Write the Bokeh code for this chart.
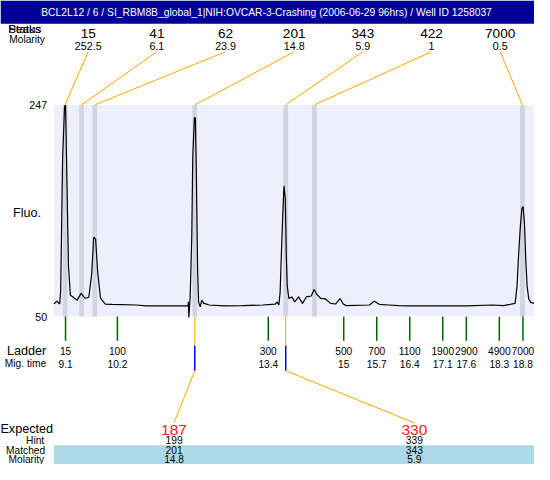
from bokeh.plotting import figure
from bokeh.models import Range1d
from bokeh.embed import file_html
from bokeh.resources import INLINE
from bokeh.core.properties import value

# ---------------- data ----------------
title_text = "BCL2L12 / 6 / SI_RBM8B_global_1|NIH:OVCAR-3-Crashing (2006-06-29 96hrs) / Well ID 1258037"

peak_sizes = [15, 41, 62, 201, 343, 422, 7000]
peak_molarity = ["252.5", "6.1", "23.9", "14.8", "5.9", "1", "0.5"]
peak_times = [9.09, 9.44, 9.72, 11.84, 13.77, 14.38, 18.79]

ladder_sizes = [15, 100, 300, 500, 700, 1100, 1900, 2900, 4900, 7000]
ladder_times = [9.1, 10.2, 13.4, 15, 15.7, 16.4, 17.1, 17.6, 18.3, 18.8]

expected_sizes = [187, 330]
hint_sizes = [199, 339]
matched_sizes = [201, 343]
matched_molarity = ["14.8", "5.9"]
matched_times = [11.84, 13.77]

trace_time = [8.853, 8.915, 8.976, 8.997, 9.038, 9.079, 9.100, 9.131, 9.162, 9.203,
              9.265, 9.347, 9.429, 9.512, 9.594, 9.656, 9.697, 9.738, 9.780, 9.841,
              9.944, 10.088, 10.603, 10.809, 11.695, 11.705, 11.715, 11.742, 11.777, 11.798,
              11.833, 11.853, 11.874, 11.901, 11.921, 11.956, 11.989, 12.024, 12.148, 12.457,
              12.869, 13.280, 13.548, 13.589, 13.624, 13.651, 13.678, 13.707, 13.733, 13.760,
              13.781, 13.801, 13.836, 13.898, 13.960, 14.042, 14.125, 14.207, 14.310, 14.372,
              14.434, 14.517, 14.599, 14.722, 14.825, 14.922, 14.990, 15.052, 15.546, 15.649,
              15.752, 15.958, 16.164, 16.370, 16.988, 17.605, 18.161, 18.388, 18.635, 18.676,
              18.711, 18.744, 18.779, 18.805, 18.834, 18.861, 18.888, 18.923, 18.964, 19.046]
trace_fluo = [61.7, 64.4, 61.7, 74.3, 198.4, 245.2, 247.0, 171.4, 96.8, 69.8,
              68.0, 65.3, 71.6, 67.1, 68.0, 90.5, 123.8, 122.0, 92.3, 67.1,
              61.7, 61.4, 60.8, 59.9, 59.9, 63.8, 49.1, 67.1, 123.8, 198.4,
              235.3, 234.7, 184.0, 94.1, 63.5, 59.0, 65.3, 62.6, 60.8, 59.9,
              60.2, 60.8, 61.7, 63.5, 60.8, 72.5, 108.7, 144.7, 171.7, 159.7,
              108.7, 78.8, 66.8, 68.3, 63.8, 68.3, 62.3, 68.3, 69.2, 75.2,
              70.4, 66.8, 66.8, 62.3, 61.7, 66.8, 61.7, 60.2, 60.8, 64.4,
              61.4, 60.8, 60.2, 59.9, 59.9, 59.9, 60.8, 60.2, 62.3, 78.8,
              108.7, 132.8, 150.7, 152.3, 135.7, 102.8, 78.8, 66.8, 63.2, 62.3]

fluo_min, fluo_max = 50, 247
time_left, time_right = 8.853, 19.046

# ---------------- layout ----------------
W, H = 550, 480
OUT_W, OUT_H = 534, 464
SC = OUT_W / W
PL, PR, PT, PB = 55, 550, 108, 327
FONT = "Liberation Sans"

kt = (time_right - time_left) / (PR - PL)
kf = (fluo_max - fluo_min) / (PB - PT)


def t2px(t):
    return PL + (t - time_left) / kt


p = figure(width=OUT_W, height=OUT_H, x_range=Range1d(0, W), y_range=Range1d(H, 0),
           output_backend="svg", toolbar_location=None, min_border=0,
           x_axis_type=None, y_axis_type=None, outline_line_color=None,
           background_fill_color="white", border_fill_color="white")
p.extra_x_ranges = {"t": Range1d(time_left - PL * kt, time_right + (W - PR) * kt)}
p.extra_y_ranges = {"f": Range1d(fluo_min - (H - PB) * kf, fluo_max + PT * kf)}


def txt(xs, ys, texts, size, align="center", color="black", **kw):
    p.text(x=xs, y=ys, text=[str(t) for t in texts], text_font=value(FONT),
           text_font_size=f"{size * SC:.1f}px", text_align=align,
           text_baseline="middle", text_color=color, **kw)


# header row labels (overlapping, partly under title bar)
txt([8], [28.5], ["Status"], 12, align="left")
txt([8], [28.5], ["Peaks"], 12, align="left")
txt([9], [40.5], ["Molarity"], 10.5, align="left")

# title bar
p.quad(left=0, right=W, top=0, bottom=24, fill_color="#000099", line_color=None)
txt([274], [12], [title_text], 10.6, color="white")

# peak labels on top
n = len(peak_sizes)
slot_x = [PL + (i + 0.5) * (PR - PL) / n for i in range(n)]
txt(slot_x, [34] * n, peak_sizes, 14)
txt(slot_x, [47] * n, peak_molarity, 11)
p.segment(x0=slot_x, y0=[53] * n, x1=[t2px(t) for t in peak_times], y1=[PT] * n,
          line_color="#FFA500", line_width=1)

# plot area
p.quad(left=PL, right=PR, top=PT, bottom=PB, fill_color="#EEEEFC", line_color=None)
p.vbar(x=peak_times, width=0.1, bottom=fluo_min, top=fluo_max,
       x_range_name="t", y_range_name="f", fill_color="#D4D4E0", line_color=None)
p.line(trace_time, trace_fluo, x_range_name="t", y_range_name="f",
       line_color="black", line_width=1.2)

txt([48, 48], [fluo_max, fluo_min], [fluo_max, fluo_min], 11, align="right", y_range_name="f")
txt([13], [220], ["Fluo."], 13, align="left")

# ladder
m = len(ladder_sizes)
p.segment(x0=ladder_times, x1=ladder_times, y0=[PB] * m, y1=[352] * m,
          x_range_name="t", line_color="#006400", line_width=1.5)
txt(ladder_times, [363] * m, ladder_sizes, 10.5, x_range_name="t")
txt(ladder_times, [376] * m, ladder_times, 10.5, x_range_name="t")
txt([47], [363], ["Ladder"], 13, align="right")
txt([47], [376], ["Mig. time"], 10.5, align="right")

# matched peaks -> expected
k = len(expected_sizes)
p.segment(x0=matched_times, x1=matched_times, y0=[PB] * k, y1=[357] * k,
          x_range_name="t", line_color="#FFA500", line_width=1)
p.segment(x0=matched_times, x1=matched_times, y0=[357] * k, y1=[383] * k,
          x_range_name="t", line_color="#0000FF", line_width=1.5)
exp_x = [PL + (i + 0.5) * (PR - PL) / k for i in range(k)]
p.segment(x0=[t2px(t) for t in matched_times], y0=[383] * k, x1=exp_x, y1=[437] * k,
          line_color="#FFA500", line_width=1)

p.quad(left=PL, right=PR, top=460, bottom=H, fill_color="#ADD8E6", line_color=None)
txt(exp_x, [444] * k, expected_sizes, 16, color="#FF2020")
txt(exp_x, [455] * k, hint_sizes, 10.5)
txt(exp_x, [465] * k, matched_sizes, 10.5)
txt(exp_x, [474.5] * k, matched_molarity, 10.5)
txt([27], [443], ["Expected"], 13)
txt([45], [455], ["Hint"], 10.5, align="right")
txt([46], [465], ["Matched"], 10.5, align="right")
txt([45], [474.5], ["Molarity"], 10.5, align="right")

open("out.html", "w").write(file_html(p, INLINE))
